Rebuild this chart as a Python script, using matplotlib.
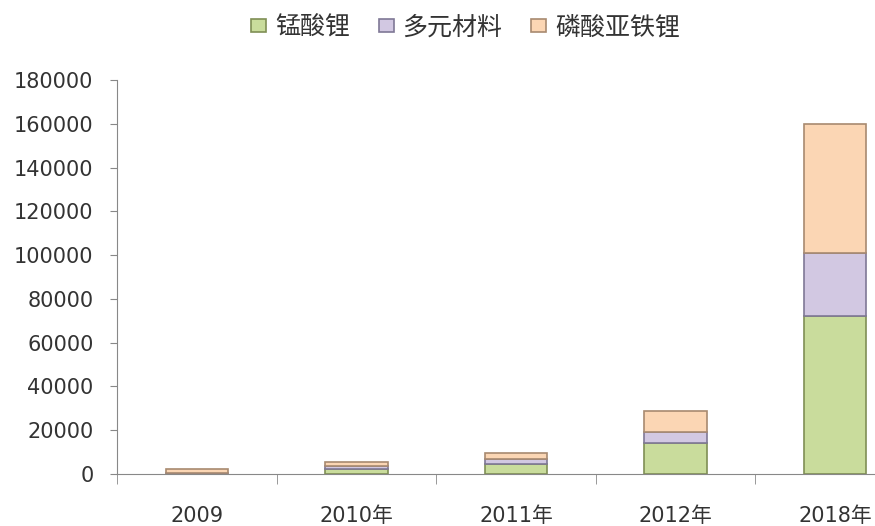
import matplotlib.pyplot as plt
import numpy as np

plt.rcParams['font.family'] = ['DejaVu Sans', 'Noto Sans CJK SC']

## Chart data
years = ['2009', '2010年', '2011年', '2012年', '2018年']
series = ['锰酸锂', '多元材料', '磷酸亚铁锂']
lmo = [200, 2500, 4500, 14000, 72000]
ncm = [100, 1000, 2500, 5000, 29000]
lfp = [1800, 2000, 2500, 10000, 59000]

faceColors = ['#c9dc9c', '#d2c8e2', '#fbd6b4']
edgeColors = ['#7f8f55', '#7f7896', '#a88a70']

fig = plt.figure(figsize=(8.75, 5.26), dpi=100)
ax = fig.add_axes([0.1337, 0.0989, 0.912, 0.749])

x = np.arange(len(years))
bottom = np.zeros(len(years))
for vals, name, fc, ec in zip([lmo, ncm, lfp], series, faceColors, edgeColors):
    ax.bar(x, vals, width=0.39, bottom=bottom, color=fc, edgecolor=ec,
           linewidth=1.2, label=name)
    bottom += np.array(vals)

ax.set_xlim(-0.5, len(years) - 0.5)
ax.set_ylim(0, 180000)
ax.set_yticks(np.arange(0, 180001, 20000))
ax.tick_params(axis='y', labelsize=15, length=5, pad=12, color='#888888', labelcolor='#333333')

# category labels at centers, tick marks between categories
ax.set_xticks(x)
ax.set_xticklabels(years)
ax.set_xticks(np.arange(-0.5, len(years)), minor=True)
ax.tick_params(axis='x', which='major', length=0, pad=23, labelsize=15, labelcolor='#333333')
ax.tick_params(axis='x', which='minor', length=7, color='#888888')

for side in ['top', 'right']:
    ax.spines[side].set_visible(False)
ax.spines['left'].set_color('#888888')
ax.spines['bottom'].set_color('#888888')

fig.legend(loc='upper center', bbox_to_anchor=(0.532, 1.015), ncol=3, frameon=False,
           handlelength=0.6, handleheight=0.45, handletextpad=0.35,
           columnspacing=1.15, labelcolor='#333333', prop={'family': 'Noto Sans CJK SC', 'size': 18})

plt.savefig('out.png')
